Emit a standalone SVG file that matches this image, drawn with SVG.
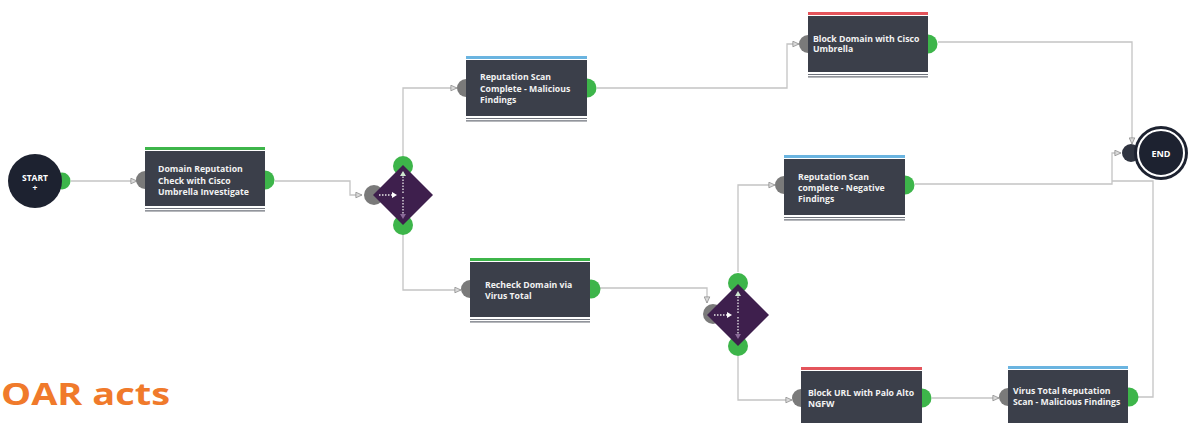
<svg xmlns="http://www.w3.org/2000/svg" width="1192" height="423" viewBox="0 0 1192 423">
<style>
.bg{fill:#ffffff}
.conn{fill:none;stroke:#c4c4c4;stroke-width:1.3}
.box{fill:#3b3f4a}
.foot{stroke:#6e727b;stroke-width:1.2}
.in{fill:#7a7a7a}
.out{fill:#3db54a}
.green{fill:#3db54a}
.blue{fill:#6ab4e0}
.red{fill:#e4545b}
.lbl{font-family:"Open Sans","Liberation Sans",sans-serif;font-weight:700;font-size:8.7px;fill:#f2f2f2}
.dia{fill:#3e1f4d}
.dot{stroke:#e8e8e8;stroke-width:1.3;stroke-dasharray:1.5 1.5;fill:none}
</style>
<defs>
<marker id="arr" viewBox="0 0 8 8" refX="7.5" refY="4" markerWidth="7" markerHeight="7" markerUnits="userSpaceOnUse" orient="auto">
<path d="M0.5,0.8 L7.5,4 L0.5,7.2 Z" fill="#d9d9d9" stroke="#8d8d8d" stroke-width="0.9"/>
</marker>
</defs>
<rect class="bg" x="0" y="0" width="1192" height="423"/>

<g id="connectors">
<path class="conn" d="M71,181 H137" marker-end="url(#arr)"/>
<path class="conn" d="M275,181 H350 V195 H362" marker-end="url(#arr)"/>
<path class="conn" d="M403,156 V88 H457" marker-end="url(#arr)"/>
<path class="conn" d="M403,234 V290 H461" marker-end="url(#arr)"/>
<path class="conn" d="M597,88 H787 V44 H799" marker-end="url(#arr)"/>
<path class="conn" d="M938,42 H1132 V144" marker-end="url(#arr)"/>
<path class="conn" d="M600,288 H707 V303" marker-end="url(#arr)"/>
<path class="conn" d="M738,272 V185 H775" marker-end="url(#arr)"/>
<path class="conn" d="M738,356 V400 H792" marker-end="url(#arr)"/>
<path class="conn" d="M915,184 H1112 V153 H1121" marker-end="url(#arr)"/>
<path class="conn" d="M932,398 H999" marker-end="url(#arr)"/>
<path class="conn" d="M1138,397 H1153 V181 H1112"/>
</g>

<g id="start">
<circle class="out" cx="62" cy="181" r="8.5"/>
<circle cx="35" cy="181" r="27" fill="#1d2230"/>
<text x="35" y="181" text-anchor="middle" font-family="Open Sans, Liberation Sans, sans-serif" font-weight="700" font-size="8.5" fill="#fff">START</text>
<text x="35" y="191" text-anchor="middle" font-family="Open Sans, Liberation Sans, sans-serif" font-weight="700" font-size="8.5" fill="#fff">+</text>
</g>

<g id="n1">
<circle class="in" cx="145" cy="180" r="9"/>
<circle class="out" cx="265" cy="180" r="9.5"/>
<rect class="green" x="145" y="147" width="120" height="3"/>
<rect class="box" x="145" y="151" width="120" height="55"/>
<line class="foot" x1="145" y1="208.5" x2="265" y2="208.5"/>
<line class="foot" x1="145" y1="210.8" x2="265" y2="210.8"/>
<text class="lbl" x="158" y="172">Domain Reputation</text>
<text class="lbl" x="158" y="183.5">Check with Cisco</text>
<text class="lbl" x="158" y="195">Umbrella Investigate</text>
</g>

<g id="d1">
<circle class="in" cx="374" cy="195" r="10"/>
<circle class="out" cx="403" cy="166" r="10"/>
<circle class="out" cx="403" cy="225" r="10"/>
<polygon class="dia" points="403,165 433,195 403,225 373,195"/>
<line class="dot" x1="379" y1="195" x2="392" y2="195"/>
<path d="M392,192 L397,195 L392,198 Z" fill="#fff"/>
<line class="dot" x1="403" y1="193" x2="403" y2="176"/>
<path d="M400,176 L403,171 L406,176 Z" fill="#cfe8d0"/>
<line class="dot" x1="403" y1="197" x2="403" y2="214" stroke="#9b7aa8"/>
<path d="M400,214 L403,219 L406,214 Z" fill="#8a6a98"/>
</g>

<g id="n2">
<circle class="in" cx="466" cy="88" r="9"/>
<circle class="out" cx="587" cy="88" r="9.5"/>
<rect class="blue" x="466" y="56" width="121" height="3"/>
<rect class="box" x="466" y="60" width="121" height="56"/>
<line class="foot" x1="466" y1="118.5" x2="587" y2="118.5"/>
<line class="foot" x1="466" y1="120.8" x2="587" y2="120.8"/>
<text class="lbl" x="480" y="80">Reputation Scan</text>
<text class="lbl" x="480" y="91.5">Complete - Malicious</text>
<text class="lbl" x="480" y="102.5">Findings</text>
</g>

<g id="n3">
<circle class="in" cx="808" cy="44" r="9"/>
<circle class="out" cx="928" cy="44" r="9.5"/>
<rect class="red" x="808" y="12" width="120" height="3"/>
<rect class="box" x="808" y="16" width="120" height="56"/>
<line class="foot" x1="808" y1="74.5" x2="928" y2="74.5"/>
<line class="foot" x1="808" y1="76.8" x2="928" y2="76.8"/>
<text class="lbl" x="813" y="41.5">Block Domain with Cisco</text>
<text class="lbl" x="813" y="51.5">Umbrella</text>
</g>

<g id="n4">
<circle class="in" cx="784" cy="185" r="9"/>
<circle class="out" cx="905" cy="185" r="9.5"/>
<rect class="blue" x="784" y="155" width="121" height="3"/>
<rect class="box" x="784" y="159" width="121" height="56"/>
<line class="foot" x1="784" y1="217.5" x2="905" y2="217.5"/>
<line class="foot" x1="784" y1="219.8" x2="905" y2="219.8"/>
<text class="lbl" x="798" y="180">Reputation Scan</text>
<text class="lbl" x="798" y="191">complete - Negative</text>
<text class="lbl" x="798" y="202">Findings</text>
</g>

<g id="n5">
<circle class="in" cx="470" cy="289" r="9"/>
<circle class="out" cx="591" cy="289" r="9.5"/>
<rect class="green" x="470" y="258" width="120" height="3"/>
<rect class="box" x="470" y="262" width="120" height="55"/>
<line class="foot" x1="470" y1="319.5" x2="590" y2="319.5"/>
<line class="foot" x1="470" y1="321.8" x2="590" y2="321.8"/>
<text class="lbl" x="485" y="288">Recheck Domain via</text>
<text class="lbl" x="485" y="299">Virus Total</text>
</g>

<g id="d2">
<circle class="in" cx="713" cy="314" r="10"/>
<circle class="out" cx="738" cy="283" r="10"/>
<circle class="out" cx="738" cy="346" r="10"/>
<polygon class="dia" points="738,284 769,315 738,346 707,315"/>
<line class="dot" x1="714" y1="315" x2="727" y2="315"/>
<path d="M727,312 L732,315 L727,318 Z" fill="#fff"/>
<line class="dot" x1="738" y1="313" x2="738" y2="296"/>
<path d="M735,296 L738,291 L741,296 Z" fill="#cfe8d0"/>
<line class="dot" x1="738" y1="317" x2="738" y2="334" stroke="#9b7aa8"/>
<path d="M735,334 L738,339 L741,334 Z" fill="#8a6a98"/>
</g>

<g id="n6">
<circle class="in" cx="801" cy="398" r="9"/>
<circle class="out" cx="922" cy="398" r="9.5"/>
<rect class="red" x="801" y="367" width="121" height="3"/>
<rect class="box" x="801" y="371" width="121" height="56"/>
<text class="lbl" x="808" y="396">Block URL with Palo Alto</text>
<text class="lbl" x="808" y="406.5">NGFW</text>
</g>

<g id="n7">
<circle class="in" cx="1008" cy="397" r="9"/>
<circle class="out" cx="1129" cy="397" r="9.5"/>
<rect class="blue" x="1008" y="366" width="120" height="3"/>
<rect class="box" x="1008" y="370" width="120" height="56"/>
<text class="lbl" x="1013" y="394">Virus Total Reputation</text>
<text class="lbl" x="1013" y="405">Scan - Malicious Findings</text>
</g>

<g id="end">
<circle cx="1131" cy="153" r="9" fill="#2f3440"/>
<circle cx="1161" cy="153" r="27" fill="#1d2230"/>
<circle cx="1161" cy="153" r="23" fill="none" stroke="#ffffff" stroke-width="2"/>
<text x="1161" y="156.5" text-anchor="middle" font-family="Open Sans, Liberation Sans, sans-serif" font-weight="700" font-size="9" fill="#fff">END</text>
</g>

<text x="1" y="405" font-family="Open Sans, Liberation Sans, sans-serif" font-weight="700" font-size="31" fill="#f07a2b" textLength="169" lengthAdjust="spacingAndGlyphs">OAR acts</text>
</svg>
